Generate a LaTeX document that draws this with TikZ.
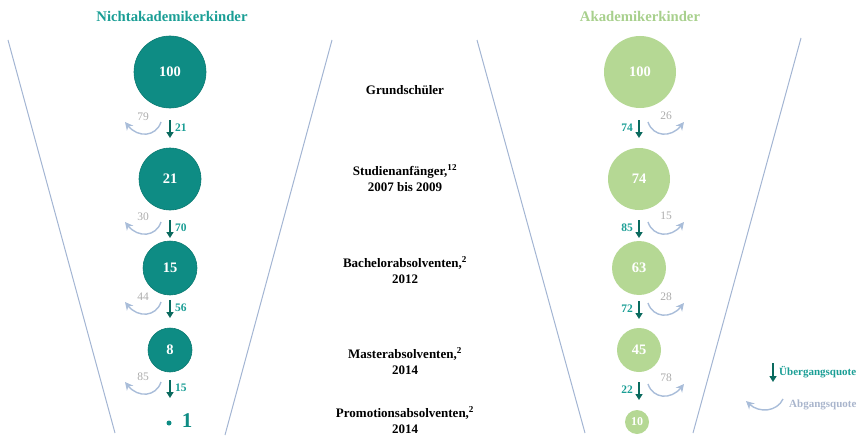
\documentclass[tikz,border=0pt]{standalone}
\usepackage{fontspec}
\setmainfont{Liberation Serif}
\usetikzlibrary{arrows.meta}
\definecolor{teal1}{HTML}{0E8C84}
\definecolor{tealedge}{HTML}{0A7A72}
\definecolor{tealtxt}{HTML}{1A9E95}
\definecolor{darkarr}{HTML}{0A6A5E}
\definecolor{lgreen}{HTML}{B5D894}
\definecolor{lgreentxt}{HTML}{A8D08D}
\definecolor{abblue}{HTML}{A9BDD9}
\definecolor{abgray}{HTML}{ABABAB}
\definecolor{abtxt}{HTML}{A9B5CC}
\definecolor{funnel}{HTML}{A3B5D3}
\tikzset{
  circT/.style={circle, fill=teal1, draw=tealedge, line width=0.6pt, inner sep=0pt, text=white,
    font=\bfseries\fontsize{14.5}{14.5}\selectfont, minimum size=#1},
  circG/.style={circle, fill=lgreen, inner sep=0pt, text=white,
    font=\bfseries\fontsize{14.5}{14.5}\selectfont, minimum size=#1},
  darr/.style={draw=darkarr, line width=1.7pt, -{Triangle[length=6pt,width=7pt]}},
  abarr/.style={draw=abblue, line width=1.4pt, -{Stealth[length=8pt,width=8pt,inset=2.5pt]}},
  ulab/.style={text=tealtxt, font=\bfseries\fontsize{11.5}{11.5}\selectfont, inner sep=0pt},
  alab/.style={text=abgray, font=\fontsize{11.5}{11.5}\selectfont, inner sep=0pt},
  midtxt/.style={align=center, font=\bfseries\fontsize{13}{16}\selectfont, inner sep=0pt},
  title/.style={font=\bfseries\fontsize{14.7}{14.7}\selectfont, inner sep=0pt},
  funnelline/.style={draw=funnel, line width=1pt}
}
\begin{document}
\begin{tikzpicture}[x=1pt,y=-1pt]
\useasboundingbox (0,0) rectangle (862,436);
% titles
\node[title, text=tealtxt] (tL) at (172,16) {Nichtakademikerkinder};
\node[title, text=lgreentxt] (tR) at (640,16) {Akademikerkinder};
% funnel lines
\coordinate (f1a) at (8,40);   \coordinate (f1b) at (115,433);
\coordinate (f2a) at (332,40); \coordinate (f2b) at (225,435);
\coordinate (f3a) at (477,40); \coordinate (f3b) at (585,433);
\coordinate (f4a) at (801,38); \coordinate (f4b) at (693,433);
\draw[funnelline] (f1a) -- (f1b);
\draw[funnelline] (f2a) -- (f2b);
\draw[funnelline] (f3a) -- (f3b);
\draw[funnelline] (f4a) -- (f4b);
% left circles
\node[circT=72pt] (L1) at (170,72) {100};
\node[circT=62pt] (L2) at (170,179) {21};
\node[circT=54pt] (L3) at (170,268) {15};
\node[circT=44pt] (L4) at (170,350) {8};
\node[circle, fill=teal1, inner sep=0pt, minimum size=5pt] (L5) at (169,423) {};
\node[text=teal1, font=\bfseries\fontsize{21}{21}\selectfont, inner sep=0pt] (L5t) at (187,421) {1};
% right circles
\node[circG=72pt] (R1) at (640,72) {100};
\node[circG=62pt] (R2) at (639,179) {74};
\node[circG=54pt] (R3) at (639,268) {63};
\node[circG=44pt] (R4) at (639,350) {45};
\node[circG=24pt, font=\bfseries\fontsize{12}{12}\selectfont] (R5) at (637,422) {10};
% middle texts
\node[midtxt] (m1) at (405,90) {Grundschüler};
\node[midtxt] (m2) at (405,178) {Studienanfänger,\textsuperscript{12}\\2007 bis 2009};
\node[midtxt] (m3) at (405,270) {Bachelorabsolventen,\textsuperscript{2}\\2012};
\node[midtxt] (m4) at (405,361) {Masterabsolventen,\textsuperscript{2}\\2014};
\node[midtxt] (m5) at (405,420) {Promotionsabsolventen,\textsuperscript{2}\\2014};
% left arrows
\foreach \i/\y/\u/\a in {1/128/21/79, 2/228/70/30, 3/308/56/44, 4/388/15/85}{
  \coordinate (lda\i) at (170,\y-8);
  \coordinate (ldb\i) at (170,\y+10);
  \draw[darr] (lda\i) -- (ldb\i);
  \node[ulab, anchor=west] (lu\i) at (175,\y) {\u};
  \coordinate (laa\i) at (161,\y-6);
  \coordinate (lab\i) at (125,\y-6);
  \draw[abarr] (laa\i) .. controls (156,\y+9) and (138,\y+10) .. (lab\i);
  \node[alab] (la\i) at (143,\y-11) {\a};
}
% right arrows
\foreach \i/\y/\u/\a in {1/128/74/26, 2/228/85/15, 3/309/72/28, 4/390/22/78}{
  \coordinate (rda\i) at (639,\y-8);
  \coordinate (rdb\i) at (639,\y+10);
  \draw[darr] (rda\i) -- (rdb\i);
  \node[ulab, anchor=east] (ru\i) at (633,\y) {\u};
  \coordinate (raa\i) at (648,\y-6);
  \coordinate (rab\i) at (684,\y-6);
  \draw[abarr] (raa\i) .. controls (653,\y+9) and (671,\y+10) .. (rab\i);
  \node[alab] (ra\i) at (666,\y-12) {\a};
}
% legend
\coordinate (lg1) at (773,363);
\coordinate (lg2) at (773,382);
\draw[darr] (lg1) -- (lg2);
\node[ulab, anchor=west, font=\bfseries\fontsize{11}{11}\selectfont] (lgu) at (779,372) {Übergangsquote};
\coordinate (lg3) at (783,399);
\coordinate (lg4) at (746,401);
\draw[abarr] (lg3) .. controls (777,412) and (759,413) .. (lg4);
\node[anchor=west, text=abtxt, font=\bfseries\fontsize{11}{11}\selectfont, inner sep=0pt] (lga) at (789,405) {Abgangsquote};
\end{tikzpicture}
\end{document}
